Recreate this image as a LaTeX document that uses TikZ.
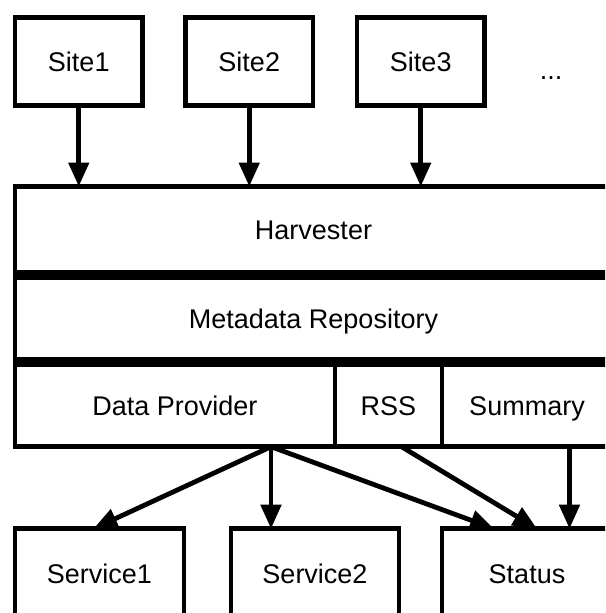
\documentclass[tikz,border=0pt]{standalone}
\usepackage{fontspec}
\setmainfont{Liberation Sans}
\usetikzlibrary{arrows.meta, positioning, calc}

\begin{document}
\begin{tikzpicture}[
    x=1pt, y=-1pt,
    every node/.style={font=\fontsize{27}{31}\selectfont},
    box/.style={rectangle, draw, line width=4.8pt, outer sep=0pt, inner sep=0pt,
                text height=19.3pt, text depth=0pt},
    site/.style={box, minimum width=127.5pt, minimum height=88pt},
    layer/.style={box, minimum height=82.5pt},
    svc/.style={box, minimum width=169pt, minimum height=91pt},
    arr/.style={-{Triangle[length=24pt, width=20pt]}, line width=4.8pt}
]
    \useasboundingbox (0,0) rectangle (605,613);
    \clip (0,0) rectangle (605,613);

    % sources
    \node[site] (site1) at (78.75,61.5) {Site1};
    \node[site, right=43pt of site1] (site2) {Site2};
    \node[site, right=44pt of site2] (site3) {Site3};
    \node (more) at (551,78) {...};

    % repository stack
    \node[layer, minimum width=597pt, minimum height=86pt] (harvester) at (313.5,229.5) {Harvester};
    \node[layer, minimum width=597pt, below=4.6pt of harvester] (meta) {Metadata Repository};
    \node[layer, minimum width=320pt, below right=4.6pt and 0pt of meta.south west] (dp) {Data Provider};
    \node[layer, minimum width=107pt, right=0pt of dp] (rss) {RSS};
    \node[layer, minimum width=170pt, right=0pt of rss] (summary) {Summary};

    % consumers
    \node[svc, below right=82pt and 0pt of dp.south west] (svc1) {Service1};
    \node[svc, minimum width=168pt, right=47pt of svc1] (svc2) {Service2};
    \node[svc, minimum width=170pt, right=43pt of svc2] (status) {Status};

    % connectors
    \foreach \s in {site1, site2, site3}
        \draw[arr] (\s.south) -- (\s.south |- harvester.north);
    \coordinate (fork) at ($(dp.south west)!0.8!(dp.south east)$);
    \draw[arr] (fork) -- ([xshift=-6pt]svc1.north);
    \draw[arr] (fork) -- (fork |- svc2.north);
    \draw[arr] (fork) -- ([xshift=52pt]status.north west);
    \draw[arr] ([xshift=66.5pt]rss.south west) -- ([xshift=95pt]status.north west);
    \draw[arr] ([xshift=127.5pt]summary.south west) -- ([xshift=127.5pt]status.north west);
\end{tikzpicture}
\end{document}
